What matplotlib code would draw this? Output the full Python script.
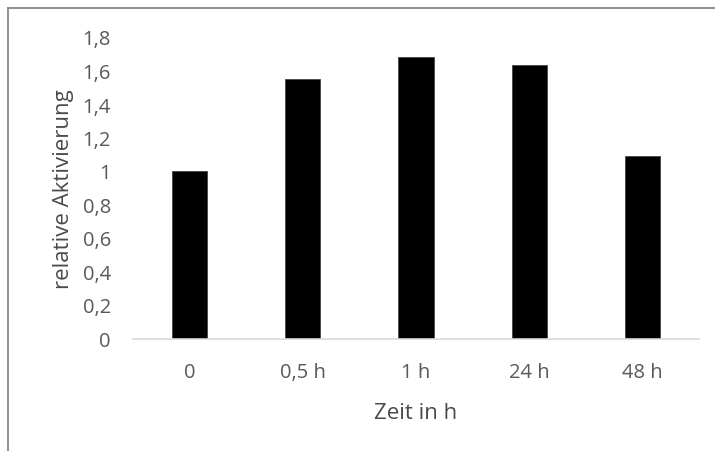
import matplotlib.pyplot as plt
from matplotlib.lines import Line2D

categories = ["0", "0,5 h", "1 h", "24 h", "48 h"]
values = [1.0, 1.55, 1.68, 1.635, 1.09]
y_ticks = [0, 0.2, 0.4, 0.6, 0.8, 1.0, 1.2, 1.4, 1.6, 1.8]
y_labels = ["0", "0,2", "0,4", "0,6", "0,8", "1", "1,2", "1,4", "1,6", "1,8"]

plt.rcParams['font.family'] = ['Open Sans', 'DejaVu Sans']
text_grey = "#595959"

fig = plt.figure(figsize=(7.15, 4.52), dpi=100)
ax = fig.add_axes([133 / 715, 1 - 339.5 / 452, 566 / 715, (339.5 - 38) / 452])

x = range(len(categories))
ax.bar(x, values, width=0.31, color="black", edgecolor="#444444", linewidth=0.6)

ax.set_xlim(-0.5, len(categories) - 0.5)
ax.set_ylim(0, 1.8)
ax.set_xticks(list(x))
ax.set_xticklabels(categories)
ax.set_yticks(y_ticks)
ax.set_yticklabels(y_labels)
ax.tick_params(axis="both", length=0, labelsize=14.5, labelcolor=text_grey)
ax.tick_params(axis="x", pad=17)
ax.tick_params(axis="y", pad=16)

for side in ["top", "right", "left"]:
    ax.spines[side].set_visible(False)
ax.spines["bottom"].set_color("#d9d9d9")
ax.spines["bottom"].set_linewidth(1.2)

ax.set_ylabel("relative Aktivierung", fontsize=16, color="#4a4a4a", labelpad=6)
ax.set_xlabel("Zeit in h", fontsize=16, color="#4a4a4a", labelpad=14)

# chart area border (cut off at the right and bottom like the original)
fig.add_artist(Line2D([7.5 / 715, 1.0], [1 - 8.5 / 452, 1 - 8.5 / 452], color="#888888", linewidth=1.3))
fig.add_artist(Line2D([7.5 / 715, 7.5 / 715], [0, 1 - 8.5 / 452], color="#888888", linewidth=1.3))

fig.savefig("out.png", dpi=100)
